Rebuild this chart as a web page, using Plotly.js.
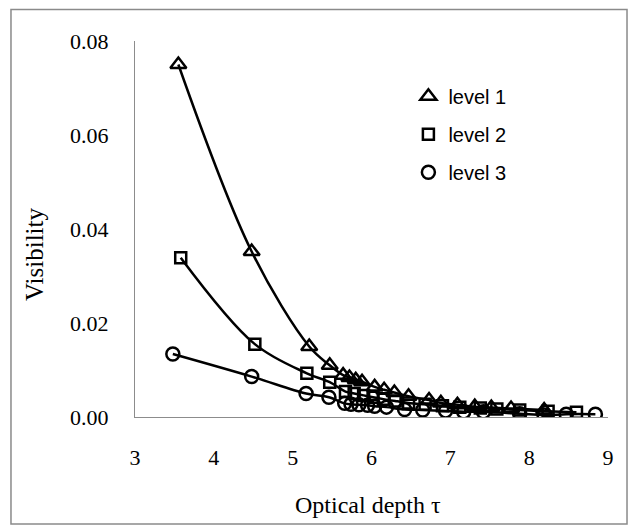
<!DOCTYPE html>
<html>
<head>
<meta charset="utf-8">
<script src="https://cdn.plot.ly/plotly-3.0.1.min.js"></script>
<style>
  html, body { margin: 0; padding: 0; background: #fff; }
  #chart { width: 632px; height: 525px; }
</style>
</head>
<body>
<div id="chart"></div>
<script>
// ---- data ----
const seriesNames = ["level 1", "level 2", "level 3"];

const level1X = [3.55, 4.48, 5.21, 5.47, 5.64, 5.72, 5.80, 5.88, 6.04, 6.16, 6.29, 6.47, 6.73, 6.88, 7.09, 7.31, 7.52, 7.77, 8.19];
const level1Y = [0.0750, 0.0352, 0.0150, 0.0110, 0.0089, 0.0084, 0.0079, 0.0075, 0.0064, 0.0058, 0.0052, 0.0044, 0.0036, 0.0030, 0.0026, 0.0022, 0.0020, 0.0018, 0.0015];

const level2X = [3.58, 4.52, 5.18, 5.47, 5.67, 5.78, 5.90, 6.02, 6.15, 6.30, 6.47, 6.68, 6.90, 7.12, 7.38, 7.59, 7.88, 8.24, 8.60];
const level2Y = [0.0339, 0.0155, 0.0093, 0.0074, 0.0054, 0.0050, 0.0046, 0.0042, 0.0038, 0.0034, 0.0030, 0.0027, 0.0024, 0.0021, 0.0019, 0.0017, 0.0015, 0.0012, 0.0010];

const level3X = [3.48, 4.48, 5.17, 5.46, 5.66, 5.74, 5.84, 5.95, 6.04, 6.19, 6.42, 6.65, 6.94, 7.17, 7.42, 7.88, 8.19, 8.47, 8.84];
const level3Y = [0.0134, 0.0086, 0.0050, 0.0042, 0.0029, 0.0027, 0.0026, 0.0025, 0.0023, 0.0021, 0.0016, 0.0015, 0.0013, 0.0011, 0.0011, 0.0007, 0.0004, 0.0006, 0.0006];

const xTickVals = [3, 4, 5, 6, 7, 8, 9];
const yTickVals = [0, 0.02, 0.04, 0.06, 0.08];

const xTitle = "Optical depth τ";
const yTitle = "Visibility";

// ---- traces ----
const xs = [level1X, level2X, level3X];
const ys = [level1Y, level2Y, level3Y];
const symbols = ["triangle-up-open", "square-open", "circle-open"];
const sizes = [14, 11, 13];

const traces = [];
for (let i = 0; i < 3; i++) {
  traces.push({
    x: xs[i], y: ys[i], type: "scatter", mode: "lines",
    line: { color: "#000", width: 2.5, shape: "spline", smoothing: 1 },
    showlegend: false, hoverinfo: "skip", legendgroup: "g" + i
  });
  traces.push({
    x: xs[i], y: ys[i], type: "scatter", mode: "markers", name: seriesNames[i],
    marker: { symbol: symbols[i], size: sizes[i], color: "#000", line: { color: "#000", width: 2.5 } },
    legendgroup: "g" + i
  });
}

const serif = "Liberation Serif, Times New Roman, serif";

const layout = {
  width: 632, height: 525,
  margin: { l: 135, r: 24, t: 41, b: 108 },
  paper_bgcolor: "#fff", plot_bgcolor: "#fff",
  showlegend: true,
  legend: {
    x: 0.578, y: 0.905, xanchor: "left", yanchor: "top",
    font: { family: "Liberation Sans, Arial, sans-serif", size: 20, color: "#000" },
    tracegroupgap: 9, bgcolor: "rgba(0,0,0,0)", traceorder: "grouped"
  },
  xaxis: {
    range: [3, 9], tickvals: xTickVals, ticks: "", showgrid: false, zeroline: false,
    showline: true, linecolor: "#8c8c8c", linewidth: 1,
    tickfont: { family: serif, size: 22, color: "#000" },
    ticklabelstandoff: 21
  },
  yaxis: {
    range: [0, 0.08], tickvals: yTickVals, tickformat: ".2f", ticks: "", showgrid: false, zeroline: false,
    showline: true, linecolor: "#8c8c8c", linewidth: 1,
    tickfont: { family: serif, size: 22, color: "#000" },
    ticklabelstandoff: 21
  },
  annotations: [
    { text: xTitle, xref: "paper", yref: "paper", x: 0.4926, y: -0.234, xanchor: "center", yanchor: "middle",
      showarrow: false, font: { family: serif, size: 24, color: "#000" } },
    { text: yTitle, xref: "paper", yref: "paper", x: -0.2114, y: 0.4309, xanchor: "center", yanchor: "middle",
      textangle: -90, showarrow: false, font: { family: serif, size: 25, color: "#000" } }
  ],
  shapes: [
    { type: "rect", xref: "paper", yref: "paper", x0: -0.2622, x1: 1.0402, y0: -0.2846, y1: 1.0838,
      line: { color: "#8a8a8a", width: 1.5 }, fillcolor: "rgba(0,0,0,0)", layer: "below" }
  ]
};

Plotly.newPlot("chart", traces, layout, { displayModeBar: false, staticPlot: true });
</script>
</body>
</html>
